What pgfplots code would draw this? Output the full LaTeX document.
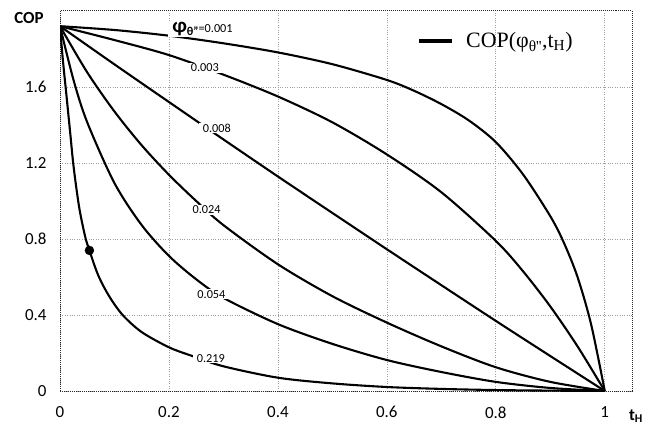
\documentclass[border=0pt]{standalone}
\usepackage{pgfplots}
\pgfplotsset{compat=1.18}
\usepackage{fontspec}
\setmainfont{Carlito}
\newfontfamily\tnr{Liberation Serif}
\pgfplotsset{cop/.style={black, solid, line width=2.1pt, smooth, no markers}}

\begin{document}
\begin{tikzpicture}
\begin{axis}[name=ax, scale only axis, width=572bp, height=380bp,
  xmin=0, xmax=1.05, ymin=0, ymax=2,
  xtick={0,0.2,0.4,0.6,0.8,1}, ytick={0,0.4,0.8,1.2,1.6},
  xticklabels={0,0.2,0.4,0.6,0.8,1}, yticklabels={0,0.4,0.8,1.2,1.6},
  /pgf/number format/assume math mode=true,
  tick style={draw=none},
  grid=major, grid style={dotted, gray!75, line width=0.7pt},
  axis line style={densely dotted, black!85, line width=1pt},
  ticklabel style={font=\fontsize{17}{17}\selectfont},
  xticklabel style={yshift=-12bp},
  yticklabel style={xshift=-10bp},
  ylabel={\bfseries COP},
  every axis y label/.style={at={(rel axis cs:0,1)}, anchor=center, xshift=-31bp, yshift=-7bp, font=\fontsize{17}{17}\selectfont},
  xlabel={\bfseries t\textsubscript{H}},
  every axis x label/.style={at={(rel axis cs:1,0)}, anchor=center, xshift=4bp, yshift=-25bp, font=\fontsize{17}{17}\selectfont},
  legend style={draw=none, fill=none, at={(rel axis cs:0.625,0.921)}, anchor=west, inner sep=0pt,
    font=\tnr\fontsize{22}{22}\selectfont, /tikz/every odd column/.append style={column sep=10bp}},
  legend image code/.code={\draw[line width=3.5pt] (0bp,0bp) -- (33bp,0bp);},
]
\addplot[cop] coordinates {(0,1.92) (0.1,1.90) (0.2,1.87) (0.3,1.83) (0.4,1.782) (0.5,1.72) (0.6,1.637) (0.65,1.58) (0.7,1.51) (0.75,1.425) (0.8,1.31) (0.85,1.14) (0.9,0.92) (0.925,0.78) (0.95,0.6) (0.975,0.35) (1,0)};
\addlegendentry{COP(φ\textsubscript{θ''},t\textsubscript{H})}
\addplot[cop] coordinates {(0,1.92) (0.1,1.847) (0.2,1.768) (0.3,1.665) (0.4,1.55) (0.5,1.414) (0.6,1.245) (0.7,1.046) (0.8,0.79) (0.85,0.63) (0.9,0.445) (0.95,0.235) (1,0)};
\addplot[cop] coordinates {(0,1.92) (0.1,1.719) (0.2,1.521) (0.3,1.324) (0.4,1.129) (0.5,0.937) (0.6,0.746) (0.7,0.557) (0.8,0.369) (0.9,0.184) (1,0)};
\addplot[cop] coordinates {(0,1.92) (0.05,1.677) (0.1,1.471) (0.15,1.293) (0.2,1.138) (0.25,1.0) (0.3,0.873) (0.4,0.667) (0.5,0.499) (0.6,0.36) (0.7,0.235) (0.8,0.125) (0.9,0.048) (1,0)};
\addplot[cop] coordinates {(0,1.92) (0.025,1.635) (0.05,1.414) (0.1,1.094) (0.15,0.873) (0.2,0.711) (0.25,0.588) (0.3,0.49) (0.4,0.352) (0.5,0.248) (0.6,0.163) (0.7,0.1) (0.8,0.048) (0.9,0.016) (1,0)};
\addplot[cop] coordinates {(0,1.92) (0.005,1.75) (0.011,1.58) (0.018,1.38) (0.025,1.18) (0.035,0.97) (0.046,0.815) (0.054,0.74) (0.07,0.61) (0.09,0.5) (0.115,0.40) (0.15,0.31) (0.2,0.23) (0.242,0.185) (0.3,0.13) (0.4,0.07) (0.5,0.04) (0.6,0.021) (0.7,0.011) (0.8,0.005) (0.9,0.002) (1,0)};
\addplot[only marks, mark=*, mark size=4.5pt, black, forget plot] coordinates {(0.054,0.74)};
\begin{scope}[every node/.style={fill=white, inner xsep=4bp, inner ysep=1bp, font=\fontsize{12.3}{12.3}\selectfont}]
\node at (axis cs:0.2615,1.905) {{\bfseries\fontsize{21}{21}\selectfont φ\raisebox{-3.5bp}{\fontsize{12}{12}\selectfont θ''}}=0.001};
\node at (axis cs:0.266,1.70) {0.003};
\node at (axis cs:0.288,1.384) {0.008};
\node at (axis cs:0.269,0.953) {0.024};
\node at (axis cs:0.278,0.509) {0.054};
\node at (axis cs:0.277,0.172) {0.219};
\end{scope}
\end{axis}
\pgfresetboundingbox
\path[use as bounding box] ([xshift=-60bp,yshift=-35bp]ax.south west) rectangle ([xshift=23bp,yshift=11bp]ax.north east);
\end{tikzpicture}
\end{document}
